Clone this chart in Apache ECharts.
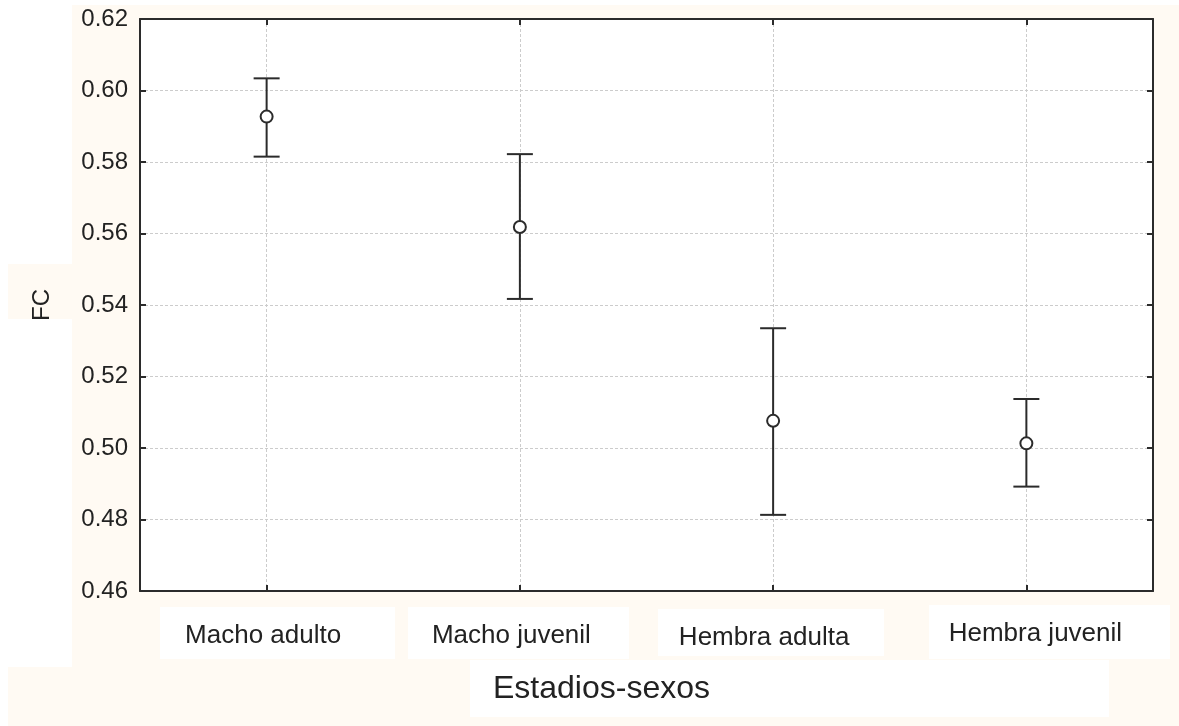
<!DOCTYPE html>
<html>
<head>
<meta charset="utf-8">
<script src="https://cdn.jsdelivr.net/npm/echarts@6/dist/echarts.min.js"></script>
<style>
  html, body { margin: 0; padding: 0; background: #ffffff; }
  #chart { width: 1179px; height: 726px; }
</style>
</head>
<body>
<div id="chart"></div>
<script>
// Stage/sex groups and the FC mean with its interval bounds
const categories = ['Macho adulto', 'Macho juvenil', 'Hembra adulta', 'Hembra juvenil'];
const means = [0.5927, 0.5618, 0.5076, 0.5013];
const lower = [0.5815, 0.5417, 0.4813, 0.4892];
const upper = [0.6034, 0.5822, 0.5335, 0.5137];

const yMin = 0.46, yMax = 0.62, yStep = 0.02;

const ink = '#2b2b2b';
const cream = '#fffaf3';
const font = '"Liberation Sans", Arial, sans-serif';

// per-label padding nudges each category caption inside its white panel
const labelPads = [
  [32, 7, 0, 0],
  [32, 17, 0, 0],
  [34, 18, 0, 0],
  [30, 0, 0, 18]
];

const catData = categories.map((c, i) => ({
  value: c,
  textStyle: { padding: labelPads[i] }
}));

const rows = categories.map((c, i) => [i, lower[i], upper[i], means[i]]);

const chart = echarts.init(document.getElementById('chart'), null, { renderer: 'canvas' });

function renderBar(params, api) {
  const x = api.value(0);
  const lo = api.coord([x, api.value(1)]);
  const hi = api.coord([x, api.value(2)]);
  const mid = api.coord([x, api.value(3)]);
  const cap = 13;
  const r = 6;
  const lineStyle = { stroke: ink, lineWidth: 2 };
  return {
    type: 'group',
    children: [
      { type: 'line', shape: { x1: hi[0], y1: hi[1], x2: mid[0], y2: mid[1] - r }, style: lineStyle },
      { type: 'line', shape: { x1: mid[0], y1: mid[1] + r, x2: lo[0], y2: lo[1] }, style: lineStyle },
      { type: 'line', shape: { x1: hi[0] - cap, y1: hi[1], x2: hi[0] + cap, y2: hi[1] }, style: lineStyle },
      { type: 'line', shape: { x1: lo[0] - cap, y1: lo[1], x2: lo[0] + cap, y2: lo[1] }, style: lineStyle },
      { type: 'circle', shape: { cx: mid[0], cy: mid[1], r: r }, style: { fill: '#ffffff', stroke: ink, lineWidth: 2 } }
    ]
  };
}

const option = {
  backgroundColor: '#ffffff',
  animation: false,
  textStyle: { fontFamily: font },
  graphic: [
    { type: 'rect', z: -20, shape: { x: 72, y: 5, width: 1107, height: 721 }, style: { fill: cream } },
    { type: 'rect', z: -20, shape: { x: 8, y: 264, width: 64, height: 55 }, style: { fill: cream } },
    { type: 'rect', z: -20, shape: { x: 8, y: 667, width: 64, height: 59 }, style: { fill: cream } },
    { type: 'rect', z: -15, shape: { x: 160, y: 607, width: 235, height: 52 }, style: { fill: '#ffffff' } },
    { type: 'rect', z: -15, shape: { x: 408, y: 607, width: 221, height: 52 }, style: { fill: '#ffffff' } },
    { type: 'rect', z: -15, shape: { x: 658, y: 609, width: 226, height: 47 }, style: { fill: '#ffffff' } },
    { type: 'rect', z: -15, shape: { x: 929, y: 605, width: 241, height: 54 }, style: { fill: '#ffffff' } },
    { type: 'rect', z: -15, shape: { x: 470, y: 660, width: 639, height: 57 }, style: { fill: '#ffffff' } }
  ],
  grid: {
    left: 140, right: 26, top: 19, bottom: 135,
    show: true, backgroundColor: '#ffffff', borderWidth: 0
  },
  xAxis: [
    {
      type: 'category',
      data: catData,
      boundaryGap: true,
      position: 'bottom',
      name: 'Estadios-sexos',
      nameLocation: 'middle',
      nameGap: 82,
      nameTextStyle: { fontSize: 32, color: '#222222', fontFamily: font, padding: [0, 90, 0, 0], lineHeight: 32 },
      axisLine: { show: true, lineStyle: { color: ink, width: 2 } },
      axisTick: { show: true, inside: true, alignWithLabel: true, length: 6, lineStyle: { color: ink, width: 2 } },
      axisLabel: { show: true, margin: 0, fontSize: 26, lineHeight: 26, color: '#222222', fontFamily: font, interval: 0 },
      splitLine: { show: true, alignWithLabel: true, lineStyle: { color: '#cccccc', width: 1, type: [3, 2] } }
    },
    {
      type: 'category',
      data: categories,
      boundaryGap: true,
      position: 'top',
      axisLine: { show: true, lineStyle: { color: ink, width: 2 } },
      axisTick: { show: true, inside: true, alignWithLabel: true, length: 6, lineStyle: { color: ink, width: 2 } },
      axisLabel: { show: false },
      splitLine: { show: false }
    }
  ],
  yAxis: [
    {
      type: 'value',
      min: yMin, max: yMax, interval: yStep,
      position: 'left',
      name: 'FC',
      nameLocation: 'middle',
      nameGap: 86,
      nameTextStyle: { fontSize: 24, color: '#222222', fontFamily: font, lineHeight: 24 },
      axisLine: { show: true, lineStyle: { color: ink, width: 2 } },
      axisTick: { show: true, inside: true, length: 6, lineStyle: { color: ink, width: 2 } },
      axisLabel: { show: true, margin: 12, fontSize: 24, color: '#222222', fontFamily: font, formatter: v => v.toFixed(2) },
      splitLine: { show: true, lineStyle: { color: '#cccccc', width: 1, type: [3, 2] } }
    },
    {
      type: 'value',
      min: yMin, max: yMax, interval: yStep,
      position: 'right',
      axisLine: { show: true, lineStyle: { color: ink, width: 2 } },
      axisTick: { show: true, inside: true, length: 6, lineStyle: { color: ink, width: 2 } },
      axisLabel: { show: false },
      splitLine: { show: false }
    }
  ],
  series: [
    {
      type: 'custom',
      xAxisIndex: 0,
      yAxisIndex: 0,
      data: rows,
      encode: { x: 0, y: [1, 2, 3] },
      renderItem: renderBar,
      z: 5
    }
  ]
};

chart.setOption(option);
</script>
</body>
</html>
